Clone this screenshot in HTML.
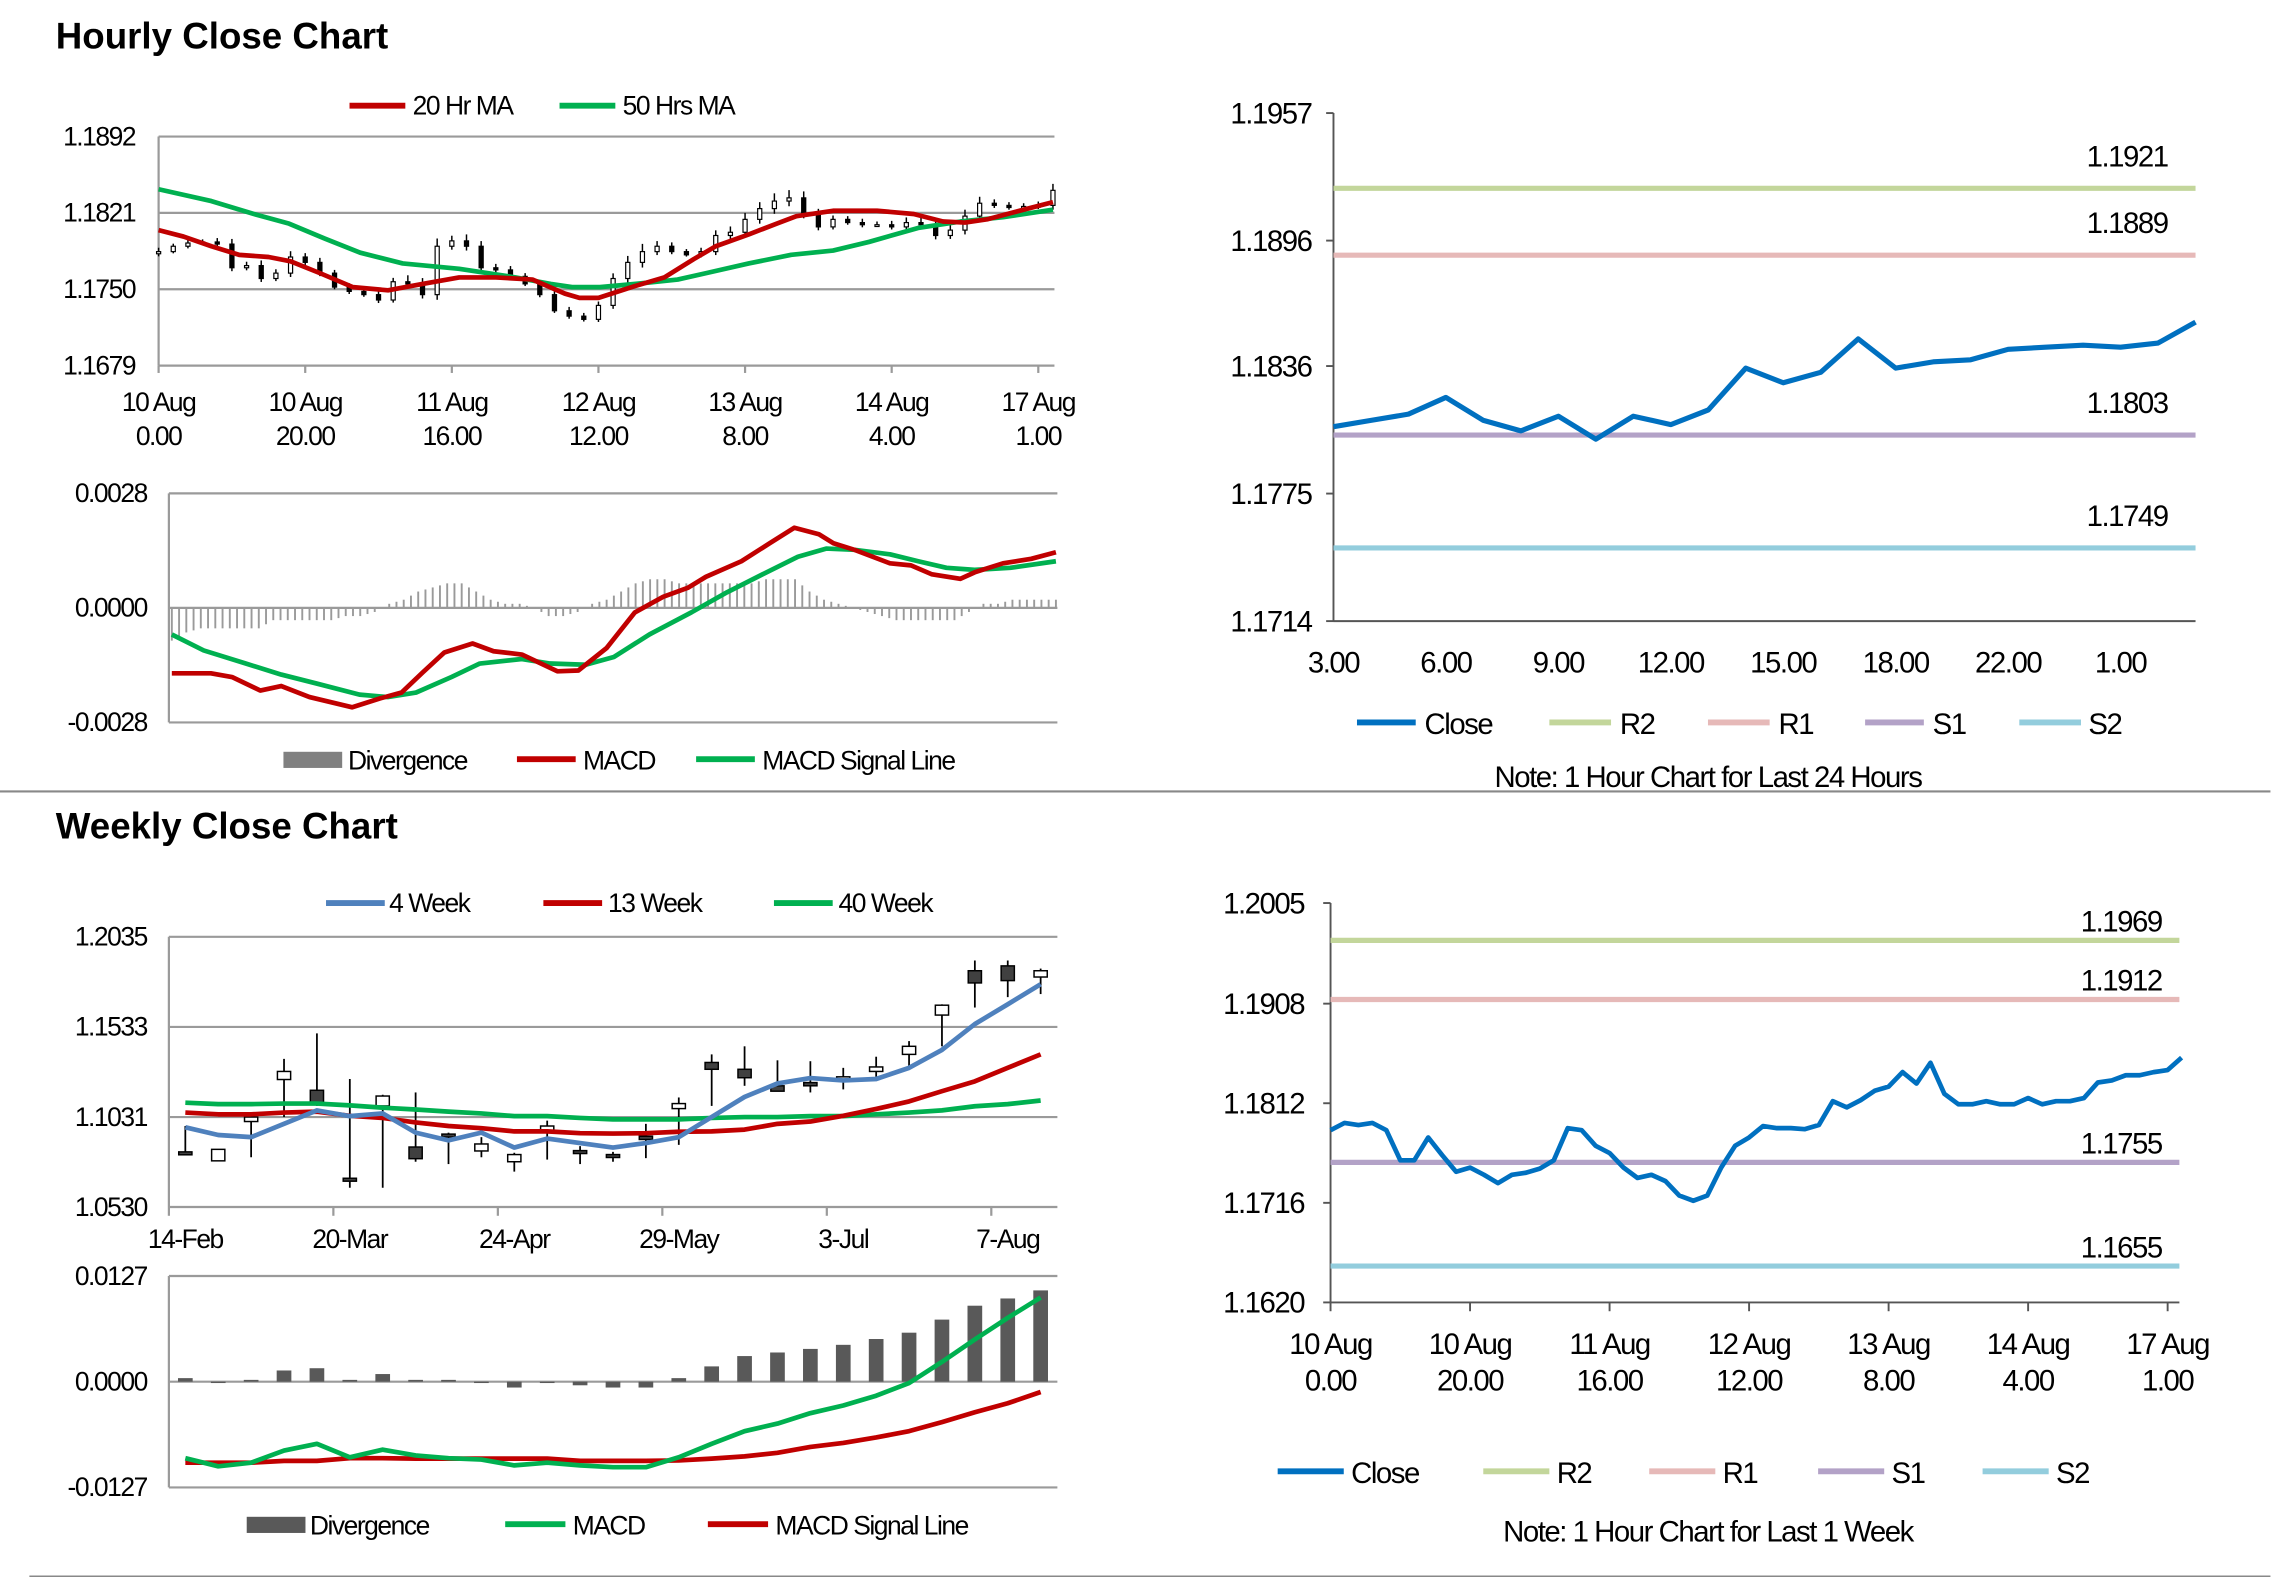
<!DOCTYPE html>
<html><head><meta charset="utf-8"><title>Hourly and Weekly Close Charts</title>
<style>
html,body{margin:0;padding:0;background:#fff;}
svg{display:block;font-family:"Liberation Sans",sans-serif;}
.t{font-size:18px;fill:#000;letter-spacing:-1px;}
.tr{font-size:20px;fill:#000;letter-spacing:-1px;}
.h{font-size:25px;font-weight:bold;fill:#000;}
</style></head>
<body>
<svg id="chart" width="2291" height="1577" viewBox="0 0 1560 1074" preserveAspectRatio="none" xmlns="http://www.w3.org/2000/svg">
<text class="h" x="38" y="33">Hourly Close Chart</text>
<text class="h" x="38" y="571">Weekly Close Chart</text>
<line x1="0" y1="539" x2="1546" y2="539" stroke="#888" stroke-width="1.5"/>
<line x1="20" y1="1074" x2="1546" y2="1074" stroke="#888" stroke-width="2"/>

<g>
<line x1="238" y1="72" x2="276" y2="72" stroke="#c00000" stroke-width="4"/><text class="t" x="281" y="78">20 Hr MA</text>
<line x1="381" y1="72" x2="419" y2="72" stroke="#00b050" stroke-width="4"/><text class="t" x="424" y="78">50 Hrs MA</text>
</g>
<g>
<rect x="193" y="512" width="40" height="11" fill="#808080"/><text class="t" x="237" y="524">Divergence</text>
<line x1="352" y1="517" x2="392" y2="517" stroke="#c00000" stroke-width="4"/><text class="t" x="397" y="524">MACD</text>
<line x1="474" y1="517" x2="514" y2="517" stroke="#00b050" stroke-width="4"/><text class="t" x="519" y="524">MACD Signal Line</text>
</g>
<g>
<line x1="222" y1="615" x2="262" y2="615" stroke="#4f81bd" stroke-width="4"/><text class="t" x="265" y="621">4 Week</text>
<line x1="370" y1="615" x2="410" y2="615" stroke="#c00000" stroke-width="4"/><text class="t" x="414" y="621">13 Week</text>
<line x1="527" y1="615" x2="567" y2="615" stroke="#00b050" stroke-width="4"/><text class="t" x="571" y="621">40 Week</text>
</g>
<g>
<rect x="168" y="1033" width="40" height="11" fill="#595959"/><text class="t" x="211" y="1045">Divergence</text>
<line x1="344" y1="1038" x2="385" y2="1038" stroke="#00b050" stroke-width="4"/><text class="t" x="390" y="1045">MACD</text>
<line x1="482" y1="1038" x2="523" y2="1038" stroke="#c00000" stroke-width="4"/><text class="t" x="528" y="1045">MACD Signal Line</text>
</g>
<g>
<line x1="924" y1="492" x2="964" y2="492" stroke="#0070c0" stroke-width="4"/><text class="tr" x="970" y="500">Close</text>
<line x1="1055" y1="492" x2="1097" y2="492" stroke="#c3d69b" stroke-width="4"/><text class="tr" x="1103" y="500">R2</text>
<line x1="1163" y1="492" x2="1205" y2="492" stroke="#e6b9b8" stroke-width="4"/><text class="tr" x="1211" y="500">R1</text>
<line x1="1270" y1="492" x2="1310" y2="492" stroke="#b3a2c7" stroke-width="4"/><text class="tr" x="1316" y="500">S1</text>
<line x1="1375" y1="492" x2="1417" y2="492" stroke="#93cddd" stroke-width="4"/><text class="tr" x="1422" y="500">S2</text>
</g>
<text class="tr" x="1163" y="536" text-anchor="middle">Note: 1 Hour Chart for Last 24 Hours</text>
<g>
<line x1="870" y1="1002" x2="915" y2="1002" stroke="#0070c0" stroke-width="4"/><text class="tr" x="920" y="1010">Close</text>
<line x1="1010" y1="1002" x2="1055" y2="1002" stroke="#c3d69b" stroke-width="4"/><text class="tr" x="1060" y="1010">R2</text>
<line x1="1123" y1="1002" x2="1168" y2="1002" stroke="#e6b9b8" stroke-width="4"/><text class="tr" x="1173" y="1010">R1</text>
<line x1="1238" y1="1002" x2="1283" y2="1002" stroke="#b3a2c7" stroke-width="4"/><text class="tr" x="1288" y="1010">S1</text>
<line x1="1350" y1="1002" x2="1395" y2="1002" stroke="#93cddd" stroke-width="4"/><text class="tr" x="1400" y="1010">S2</text>
</g>
<text class="tr" x="1163" y="1050" text-anchor="middle">Note: 1 Hour Chart for Last 1 Week</text>
</svg>
<script>
// ---------- Hourly chart data ----------
const hTickLabels1 = ["10 Aug","10 Aug","11 Aug","12 Aug","13 Aug","14 Aug","17 Aug"];
const hTickLabels2 = ["0.00","20.00","16.00","12.00","8.00","4.00","1.00"];
const hTickHours = [0,20,40,60,80,100,120];
const hPriceTicks = [1.1892,1.1821,1.1750,1.1679];
const hCandleHours = [0,2,4,6,8,10,12,14,16,18,20,22,24,26,28,30,32,34,36,38,40,42,44,46,48,50,52,54,56,58,60,62,64,66,68,70,72,74,76,78,80,82,84,86,88,90,92,94,96,98,100,102,104,106,108,110,112,114,116,118,120,122];
const hCloses = [1.1785,1.1790,1.1793,1.1794,1.1792,1.1770,1.1772,1.1760,1.1765,1.1780,1.1775,1.1765,1.1752,1.1748,1.1745,1.1740,1.1757,1.1755,1.1745,1.1790,1.1795,1.1790,1.1770,1.1768,1.1762,1.1755,1.1745,1.1730,1.1725,1.1722,1.1735,1.1760,1.1775,1.1785,1.1790,1.1785,1.1782,1.1785,1.1800,1.1803,1.1815,1.1825,1.1832,1.1835,1.1820,1.1808,1.1815,1.1812,1.1810,1.1810,1.1808,1.1812,1.1810,1.1800,1.1805,1.1818,1.1830,1.1828,1.1826,1.1827,1.1828,1.1842];
const hWicks = [0.0006,0.0004,0.0005,0.0004,0.0006,0.0008,0.0006,0.0008,0.0006,0.0009,0.0006,0.0007,0.0005,0.0006,0.0005,0.0007,0.0006,0.0010,0.0009,0.0012,0.0008,0.0010,0.0008,0.0006,0.0006,0.0005,0.0006,0.0005,0.0006,0.0005,0.0006,0.0008,0.0010,0.0012,0.0008,0.0006,0.0004,0.0006,0.0008,0.0009,0.0010,0.0010,0.0012,0.0012,0.0010,0.0008,0.0006,0.0005,0.0006,0.0005,0.0006,0.0008,0.0010,0.0009,0.0008,0.0010,0.0010,0.0006,0.0005,0.0005,0.0006,0.0010];
const ma20Hours = [0,3.4,7.2,11,15,18,22,26.5,31.3,36,41,46,51,55.4,57.4,60,65,69,73,76,80.5,84.3,87,92,98,103,107,110,113,118,122];
const ma20Vals = [1.1805,1.1799,1.1790,1.1782,1.1780,1.1776,1.1765,1.1752,1.1749,1.1755,1.1761,1.1761,1.1759,1.1746,1.1742,1.1742,1.1753,1.1761,1.1778,1.1790,1.1801,1.1811,1.1818,1.1823,1.1823,1.1820,1.1813,1.1812,1.1815,1.1824,1.1831];
const ma50Hours = [0,7.2,13,17.8,22.7,27.5,33.3,41,48.7,53.5,56.4,60.2,65.1,70.8,74.7,80.5,86.3,92,96.9,103.6,109.4,115.2,122];
const ma50Vals = [1.1843,1.1832,1.1820,1.1811,1.1797,1.1784,1.1774,1.1769,1.1761,1.1755,1.1752,1.1752,1.1755,1.1759,1.1765,1.1774,1.1782,1.1786,1.1794,1.1807,1.1813,1.1817,1.1824];
const hMacdTicks = [0.0028,0,-0.0028];
const hMacdTickLabels = ["0.0028","0.0000","-0.0028"];
const macdHours = [0,5.4,8.3,12.2,15.1,19,24.9,28.8,31.7,34.6,37.6,41.5,44.4,48.3,53.2,56.1,60,63.9,67.8,71.2,73.7,78.6,82.5,85.9,89.3,91.3,94.2,99.1,102,104.9,108.8,110.8,114.7,118.6,122];
const macdVals = [-0.00160,-0.00160,-0.00169,-0.00202,-0.00191,-0.00218,-0.00243,-0.00221,-0.00207,-0.00158,-0.00109,-0.00087,-0.00106,-0.00114,-0.00155,-0.00153,-0.00098,-0.00011,0.00027,0.00049,0.00076,0.00114,0.00158,0.00196,0.00180,0.00158,0.00142,0.00109,0.00104,0.00082,0.00071,0.00087,0.00109,0.00120,0.00136];
const sigHours = [0,4.4,10.2,15.1,20,25.9,29.8,33.7,38.6,42.5,48.3,52.2,57.1,61,65.9,71.7,76.6,81.5,86.4,90.3,94.2,99.1,103,106.9,110.8,115.7,122];
const sigVals = [-0.00065,-0.00104,-0.00136,-0.00163,-0.00185,-0.00212,-0.00218,-0.00207,-0.00169,-0.00136,-0.00125,-0.00136,-0.00139,-0.00120,-0.00065,-0.00011,0.00038,0.00082,0.00125,0.00145,0.00142,0.00131,0.00114,0.00098,0.00093,0.00098,0.00114];
const divVals = [-0.0008,-0.0006,-0.0005,-0.0005,-0.0005,-0.0005,-0.0005,-0.0003,-0.0003,-0.0003,-0.0003,-0.0003,-0.0002,-0.0002,-0.0001,0.0001,0.0002,0.0004,0.0005,0.0006,0.0006,0.0004,0.0002,0.0001,0.0001,0,-0.0002,-0.0002,-0.0001,0.0001,0.0002,0.0004,0.0006,0.0007,0.0007,0.0006,0.0006,0.0006,0.0006,0.0006,0.0006,0.0007,0.0007,0.0007,0.0004,0.0002,0.0001,0,-0.0001,-0.0002,-0.0003,-0.0003,-0.0003,-0.0003,-0.0003,-0.0001,0.0001,0.0001,0.0002,0.0002,0.0002,0.0002];

// ---------- 24h pivot chart ----------
const p1Labels = ["3.00","","","6.00","","","9.00","","","12.00","","","15.00","","","18.00","","","22.00","","","1.00","",""];
const p1Close = [1.1807,1.1810,1.1813,1.1821,1.1810,1.1805,1.1812,1.1801,1.1812,1.1808,1.1815,1.1835,1.1828,1.1833,1.1849,1.1835,1.1838,1.1839,1.1844,1.1845,1.1846,1.1845,1.1847,1.1857];
const p1Ticks = [1.1957,1.1896,1.1836,1.1775,1.1714];
const p1LevelNames = ["R2","R1","S1","S2"];
const p1Levels = [1.1921,1.1889,1.1803,1.1749];

// ---------- Weekly chart data ----------
const wLabels = ["14-Feb","20-Mar","24-Apr","29-May","3-Jul","7-Aug"];
const wPriceTicks = [1.2035,1.1533,1.1031,1.0530];
const wOpen = [1.0837,1.0787,1.1006,1.1240,1.1180,1.0690,1.1093,1.0864,1.0936,1.0842,1.0782,1.0956,1.0844,1.0822,1.0924,1.1078,1.1335,1.1297,1.1205,1.1223,1.1243,1.1285,1.1380,1.1599,1.1846,1.1873,1.1811];
const wClose = [1.0834,1.0851,1.1031,1.1285,1.1106,1.0680,1.1148,1.0799,1.0921,1.0881,1.0822,1.0981,1.0829,1.0807,1.0906,1.1106,1.1297,1.1250,1.1175,1.1205,1.1255,1.1310,1.1425,1.1654,1.1778,1.1791,1.1846];
const wHigh = [1.0981,1.0851,1.1043,1.1355,1.1497,1.1243,1.1155,1.1168,1.0944,1.0919,1.0832,1.1011,1.0869,1.0837,1.0993,1.1140,1.1380,1.1425,1.1347,1.1342,1.1305,1.1367,1.1454,1.1659,1.1903,1.1903,1.1858];
const wLow = [1.0832,1.0787,1.0807,1.1031,1.1093,1.0637,1.0637,1.0782,1.0769,1.0807,1.0727,1.0794,1.0769,1.0782,1.0802,1.0876,1.1093,1.1205,1.1175,1.1168,1.1185,1.1255,1.1305,1.1425,1.1641,1.1699,1.1716];
const w4 = [1.0974,1.0931,1.0919,1.0993,1.1068,1.1036,1.1051,1.0944,1.0901,1.0944,1.0861,1.0911,1.0886,1.0861,1.0886,1.0919,1.1031,1.1143,1.1218,1.1248,1.1235,1.1243,1.1305,1.1405,1.1549,1.1659,1.1771];
const w13 = [1.1056,1.1046,1.1046,1.1056,1.1061,1.1038,1.1026,1.1001,1.0981,1.0969,1.0951,1.0951,1.0941,1.0939,1.0941,1.0949,1.0951,1.0961,1.0993,1.1006,1.1038,1.1076,1.1118,1.1175,1.1230,1.1305,1.1380];
const w40 = [1.1111,1.1103,1.1103,1.1106,1.1106,1.1096,1.1083,1.1073,1.1061,1.1051,1.1036,1.1036,1.1026,1.1018,1.1018,1.1018,1.1026,1.1031,1.1031,1.1036,1.1036,1.1046,1.1056,1.1068,1.1091,1.1103,1.1123];
const wMacdTicks = [0.0127,0,-0.0127];
const wMacdTickLabels = ["0.0127","0.0000","-0.0127"];
const wDiv = [0.00043,-0.00016,0.00022,0.00135,0.00162,0.00022,0.00092,0.00022,0.00022,-0.00016,-0.00070,-0.00016,-0.00043,-0.00070,-0.00070,0.00043,0.00184,0.00308,0.00351,0.00394,0.00443,0.00513,0.00589,0.00746,0.00913,0.01000,0.01097];
const wMacd = [-0.00919,-0.01016,-0.00973,-0.00827,-0.00746,-0.00908,-0.00816,-0.00886,-0.00919,-0.00935,-0.01005,-0.00973,-0.01005,-0.01027,-0.01027,-0.00908,-0.00746,-0.00594,-0.00503,-0.00378,-0.00286,-0.00168,-0.00016,0.00238,0.00508,0.00767,0.01011];
const wSig = [-0.00973,-0.00973,-0.00973,-0.00951,-0.00951,-0.00919,-0.00919,-0.00924,-0.00924,-0.00924,-0.00924,-0.00924,-0.00951,-0.00951,-0.00951,-0.00946,-0.00924,-0.00897,-0.00854,-0.00784,-0.00735,-0.00670,-0.00594,-0.00486,-0.00367,-0.00259,-0.00124];

// ---------- Weekly pivot (1 week hourly) ----------
const p2TickLabels1 = ["10 Aug","10 Aug","11 Aug","12 Aug","13 Aug","14 Aug","17 Aug"];
const p2TickLabels2 = ["0.00","20.00","16.00","12.00","8.00","4.00","1.00"];
const p2Ticks = [1.2005,1.1908,1.1812,1.1716,1.1620];
const p2Close = [1.1786,1.1793,1.1791,1.1793,1.1786,1.1757,1.1757,1.1779,1.1762,1.1746,1.1750,1.1743,1.1735,1.1743,1.1745,1.1749,1.1757,1.1788,1.1786,1.1771,1.1764,1.1750,1.1740,1.1743,1.1737,1.1723,1.1718,1.1723,1.1750,1.1771,1.1779,1.1790,1.1788,1.1788,1.1787,1.1791,1.1814,1.1808,1.1815,1.1824,1.1828,1.1842,1.1831,1.1851,1.1821,1.1811,1.1811,1.1814,1.1811,1.1811,1.1817,1.1811,1.1814,1.1814,1.1817,1.1832,1.1834,1.1839,1.1839,1.1842,1.1844,1.1856];
const p2LevelNames = ["R2","R1","S1","S2"];
const p2Levels = [1.1969,1.1912,1.1755,1.1655];

const NS="http://www.w3.org/2000/svg";
const S=document.getElementById('chart');
function el(tag,a,p){const e=document.createElementNS(NS,tag);for(const k in a)e.setAttribute(k,a[k]);(p||S).appendChild(e);return e;}
function lin(d0,d1,r0,r1){return v=>r0+(v-d0)*(r1-r0)/(d1-d0);}
function pts(xs,ys,fx,fy){return xs.map((x,i)=>fx(x).toFixed(2)+','+fy(ys[i]).toFixed(2)).join(' ');}
function txt(x,y,s,cls,anchor,name){const t=el('text',{x:x,y:y,class:cls,'text-anchor':anchor});t.textContent=s;


return t;}

// ===== Hourly price chart =====
const hx=lin(0,120,108,707), hy=lin(1.1892,1.1679,93,249);
hPriceTicks.forEach(v=>{
 const g=el('line',{x1:108,x2:718,y1:hy(v),y2:hy(v),stroke:'#9a9a9a','stroke-width':1.5});
 
 
 txt(92,hy(v)+6,v.toFixed(4),'t','end','hourly-y-tick-label');
});
{const a=el('line',{x1:108,x2:108,y1:93,y2:249,stroke:'#9a9a9a','stroke-width':1.5});

}
hTickHours.forEach((h,i)=>{
 const m=el('line',{x1:hx(h),x2:hx(h),y1:249,y2:254,stroke:'#9a9a9a','stroke-width':1.5});
 
 
 txt(hx(h),280,hTickLabels1[i],'t','middle','hourly-x-tick-label');
 txt(hx(h),303,hTickLabels2[i],'t','middle','hourly-x-tick-label');
});
hCandleHours.forEach((h,i)=>{
 const c=hCloses[i], o=i>0?hCloses[i-1]:c-0.0002;
 const hi=Math.max(o,c)+hWicks[i]*0.6, lo=Math.min(o,c)-hWicks[i]*0.4;
 const x=hx(h);
 const w=el('line',{x1:x,x2:x,y1:hy(hi),y2:hy(lo),stroke:'#000','stroke-width':1});
 
 
 const top=hy(Math.max(o,c)), bh=Math.max(1.2,Math.abs(hy(o)-hy(c)));
 const b=el('rect',{x:x-1.4,y:top,width:2.8,height:bh,fill:c>=o?'#fff':'#000',stroke:'#000','stroke-width':0.8});
 
 
});
{const l=el('polyline',{points:pts(ma50Hours,ma50Vals,hx,hy),fill:'none',stroke:'#00b050','stroke-width':3.2,'stroke-linejoin':'round'});


const r=el('polyline',{points:pts(ma20Hours,ma20Vals,hx,hy),fill:'none',stroke:'#c00000','stroke-width':3.2,'stroke-linejoin':'round'});

}

// ===== Hourly MACD =====
const mx=lin(0,122,117,719), my=lin(0.0028,-0.0028,336,492);
hMacdTicks.forEach((v,i)=>{
 const g=el('line',{x1:115,x2:720,y1:my(v),y2:my(v),stroke:'#9a9a9a','stroke-width':1.5});
 
 
 txt(100,my(v)+6,hMacdTickLabels[i],'t','end','hourly-macd-y-tick-label');
});
{const a=el('line',{x1:115,x2:115,y1:336,y2:492,stroke:'#9a9a9a','stroke-width':1.5});

}
hCandleHours.forEach((h,i)=>{
 const v=divVals[i];
 const b=el('line',{x1:mx(h),x2:mx(h),y1:my(0),y2:my(v),stroke:'#9a9a9a','stroke-width':1.3});
 
 
 if(i<divVals.length-1){const v2=(divVals[i]+divVals[i+1])/2;
 const b2=el('line',{x1:mx(h+1),x2:mx(h+1),y1:my(0),y2:my(v2),stroke:'#9a9a9a','stroke-width':1.3});
 
 }
});
{const l=el('polyline',{points:pts(sigHours,sigVals,mx,my),fill:'none',stroke:'#00b050','stroke-width':3.2,'stroke-linejoin':'round'});


const r=el('polyline',{points:pts(macdHours,macdVals,mx,my),fill:'none',stroke:'#c00000','stroke-width':3.2,'stroke-linejoin':'round'});

}

// ===== Pivot 24h chart =====
const p1x=lin(0,23,908,1495), p1y=lin(1.1957,1.1714,77,423);
{const a=el('line',{x1:908,x2:908,y1:77,y2:423,stroke:'#555','stroke-width':1.3});


const b=el('line',{x1:908,x2:1495,y1:423,y2:423,stroke:'#555','stroke-width':1.3});

}
p1Ticks.forEach(v=>{
 const m=el('line',{x1:903,x2:908,y1:p1y(v),y2:p1y(v),stroke:'#555','stroke-width':1.3});
 
 
 txt(893,p1y(v)+7,v.toFixed(4),'tr','end','pivot-24h-y-tick-label');
});
p1Labels.forEach((s,i)=>{ if(s) txt(p1x(i),458,s,'tr','middle','pivot-24h-x-tick-label'); });
const p1Colors=['#c3d69b','#e6b9b8','#b3a2c7','#93cddd'];
p1Levels.forEach((v,i)=>{
 const l=el('line',{x1:908,x2:1495,y1:p1y(v),y2:p1y(v),stroke:p1Colors[i],'stroke-width':3.5});
 
 
 txt(1476,p1y(v)-15,v.toFixed(4),'tr','end','pivot-24h-level-label');
});
{const l=el('polyline',{points:pts(p1Close.map((_,i)=>i),p1Close,p1x,p1y),fill:'none',stroke:'#0070c0','stroke-width':3.5,'stroke-linejoin':'round'});

}

// ===== Weekly price chart =====
const wx=i=>115+(i+0.5)*22.4, wy=lin(1.2035,1.0530,638,822);
wPriceTicks.forEach(v=>{
 const g=el('line',{x1:115,x2:720,y1:wy(v),y2:wy(v),stroke:'#9a9a9a','stroke-width':1.5});
 
 
 txt(100,wy(v)+6,v.toFixed(4),'t','end','weekly-y-tick-label');
});
{const a=el('line',{x1:115,x2:115,y1:638,y2:822,stroke:'#9a9a9a','stroke-width':1.5});

}
wLabels.forEach((s,i)=>{
 const tx=115+i*5*22.4;
 const m=el('line',{x1:tx,x2:tx,y1:822,y2:828,stroke:'#9a9a9a','stroke-width':1.5});
 
 
 txt(wx(i*5),850,s,'t','middle','weekly-x-tick-label');
});
wOpen.forEach((o,i)=>{
 const c=wClose[i], x=wx(i);
 const w=el('line',{x1:x,x2:x,y1:wy(wHigh[i]),y2:wy(wLow[i]),stroke:'#000','stroke-width':1.2});
 
 
 const top=wy(Math.max(o,c)), bh=Math.max(2,Math.abs(wy(o)-wy(c)));
 const b=el('rect',{x:x-4.5,y:top,width:9,height:bh,fill:c>=o?'#fff':'#404040',stroke:'#000','stroke-width':1});
 
 
});
const wIdx=w4.map((_,i)=>i);
{const g=el('polyline',{points:pts(wIdx,w40,wx,wy),fill:'none',stroke:'#00b050','stroke-width':3.2,'stroke-linejoin':'round'});


const r=el('polyline',{points:pts(wIdx,w13,wx,wy),fill:'none',stroke:'#c00000','stroke-width':3.2,'stroke-linejoin':'round'});


const b=el('polyline',{points:pts(wIdx,w4,wx,wy),fill:'none',stroke:'#4f81bd','stroke-width':3.2,'stroke-linejoin':'round'});

}

// ===== Weekly MACD =====
const wmy=lin(0.0127,-0.0127,869,1013);
wMacdTicks.forEach((v,i)=>{
 const g=el('line',{x1:115,x2:720,y1:wmy(v),y2:wmy(v),stroke:'#9a9a9a','stroke-width':1.5});
 
 
 txt(100,wmy(v)+6,wMacdTickLabels[i],'t','end','weekly-macd-y-tick-label');
});
{const a=el('line',{x1:115,x2:115,y1:869,y2:1013,stroke:'#9a9a9a','stroke-width':1.5});

}
wDiv.forEach((v,i)=>{
 const y0=wmy(0), y1=wmy(v);
 const b=el('rect',{x:wx(i)-5,y:Math.min(y0,y1),width:10,height:Math.max(0.8,Math.abs(y1-y0)),fill:'#595959'});
 
 
});
{const r=el('polyline',{points:pts(wIdx,wSig,wx,wmy),fill:'none',stroke:'#c00000','stroke-width':3.2,'stroke-linejoin':'round'});


const g=el('polyline',{points:pts(wIdx,wMacd,wx,wmy),fill:'none',stroke:'#00b050','stroke-width':3.2,'stroke-linejoin':'round'});

}

// ===== Pivot week chart =====
const p2x=lin(0,120,906,1476), p2y=lin(1.2005,1.1620,615,887);
{const a=el('line',{x1:906,x2:906,y1:615,y2:887,stroke:'#555','stroke-width':1.3});


const b=el('line',{x1:906,x2:1484,y1:887,y2:887,stroke:'#555','stroke-width':1.3});

}
p2Ticks.forEach(v=>{
 const m=el('line',{x1:901,x2:906,y1:p2y(v),y2:p2y(v),stroke:'#555','stroke-width':1.3});
 
 
 txt(888,p2y(v)+7,v.toFixed(4),'tr','end','pivot-week-y-tick-label');
});
hTickHours.forEach((h,i)=>{
 const m=el('line',{x1:p2x(h),x2:p2x(h),y1:887,y2:893,stroke:'#555','stroke-width':1.3});
 
 
 txt(p2x(h),922,p2TickLabels1[i],'tr','middle','pivot-week-x-tick-label');
 txt(p2x(h),947,p2TickLabels2[i],'tr','middle','pivot-week-x-tick-label');
});
p2Levels.forEach((v,i)=>{
 const l=el('line',{x1:906,x2:1484,y1:p2y(v),y2:p2y(v),stroke:p1Colors[i],'stroke-width':3.5});
 
 
 txt(1472,p2y(v)-6,v.toFixed(4),'tr','end','pivot-week-level-label');
});
{const hrs=p2Close.map((_,i)=>i*2);
const l=el('polyline',{points:pts(hrs,p2Close,p2x,p2y),fill:'none',stroke:'#0070c0','stroke-width':3.2,'stroke-linejoin':'round'});

}
</script>
</body></html>
